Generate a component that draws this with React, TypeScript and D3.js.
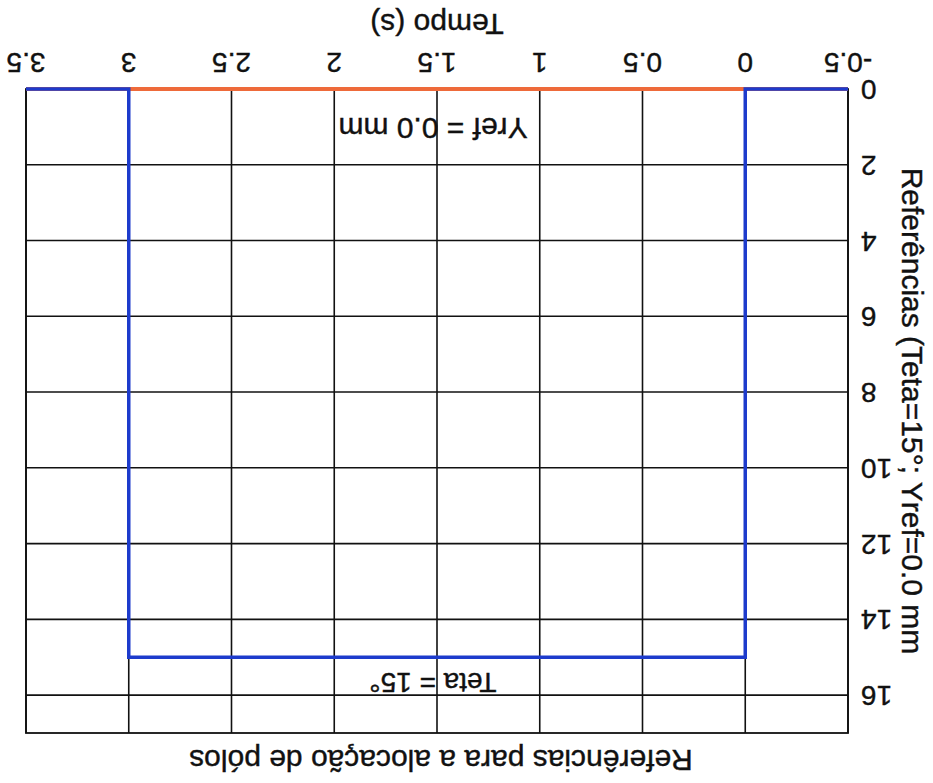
import React from "react";
import * as d3 from "d3";

const W = 933;
const H = 783;

const xTicks = [-0.5, 0, 0.5, 1, 1.5, 2, 2.5, 3, 3.5];
const xTickLabels = ["-0.5", "0", "0.5", "1", "1.5", "2", "2.5", "3", "3.5"];
const yTicks = [0, 2, 4, 6, 8, 10, 12, 14, 16];

const tempo = [-0.5, 0, 0, 3, 3, 3.5];
const teta = [0, 0, 15, 15, 0, 0];
const tempoRef = [-0.5, 3.5];
const yref = [0, 0];

const xDomain = [-0.5, 3.5];
const yDomain = [0, 17];

const title = "Referências para a alocação de pólos";
const xLabel = "Tempo (s)";
const yLabel = "Referências (Teta=15°; Yref=0.0 mm";
const tetaNote = "Teta = 15°";
const yrefNote = "Yref = 0.0 mm";

export default function App() {
  const m = { left: 85, right: 907, top: 50, bottom: 694 };
  const x = d3.scaleLinear().domain(xDomain).range([m.left, m.right]);
  const y = d3.scaleLinear().domain(yDomain).range([m.bottom, m.top]);
  const line = d3
    .line<[number, number]>()
    .x((d) => x(d[0]))
    .y((d) => y(d[1]));
  const tetaPts = tempo.map((t, i) => [t, teta[i]] as [number, number]);
  const refPts = tempoRef.map((t, i) => [t, yref[i]] as [number, number]);
  const font = "'Liberation Sans', Arial, Helvetica, sans-serif";
  const blue = "#1d3bcc";
  const orange = "#ee6a3a";
  const txt = { fill: "#111", stroke: "#111", strokeWidth: 0.4 };

  return (
    <svg
      width={W}
      height={H}
      style={{ position: "absolute", left: 0, top: 0, background: "#fff" }}
      fontFamily={font}
    >
      <rect width={W} height={H} fill="#fff" />
      <g transform={`rotate(180 ${W / 2} ${H / 2})`}>
        {xTicks.map((t) => (
          <line
            key={"gx" + t}
            x1={x(t)}
            x2={x(t)}
            y1={m.top}
            y2={m.bottom}
            stroke="#111"
            strokeWidth={1.6}
          />
        ))}
        {yTicks.map((t) => (
          <line
            key={"gy" + t}
            x1={m.left}
            x2={m.right}
            y1={y(t)}
            y2={y(t)}
            stroke="#111"
            strokeWidth={1.6}
          />
        ))}
        <rect
          x={m.left}
          y={m.top}
          width={m.right - m.left}
          height={m.bottom - m.top}
          fill="none"
          stroke="#111"
          strokeWidth={1.8}
        />
        <path d={line(refPts) || ""} fill="none" stroke={orange} strokeWidth={4} />
        <path d={line(tetaPts) || ""} fill="none" stroke={blue} strokeWidth={3.5} />
        {xTicks.map((t, i) => (
          <text
            key={"tx" + t}
            x={x(t)}
            y={m.bottom + 36}
            fontSize={28}
            textAnchor="middle"
            {...txt}
          >
            {xTickLabels[i]}
          </text>
        ))}
        {yTicks.map((t) => (
          <text
            key={"ty" + t}
            x={m.left - 13}
            y={y(t) + 9}
            fontSize={28}
            textAnchor="end"
            {...txt}
          >
            {t}
          </text>
        ))}
        <text x={496} y={769} fontSize={30} textAnchor="middle" {...txt}>
          {xLabel}
        </text>
        <text x={492} y={33} fontSize={30} textAnchor="middle" {...txt}>
          {title}
        </text>
        <text
          transform={`translate(31 ${(m.top + m.bottom) / 2}) rotate(-90)`}
          fontSize={30}
          textAnchor="middle"
          {...txt}
        >
          {yLabel}
        </text>
        <text x={x(1.5) + 4} y={y(15) - 16} fontSize={28} textAnchor="middle" {...txt}>
          {tetaNote}
        </text>
        <text x={x(1.5) + 4} y={y(0) - 29} fontSize={30} textAnchor="middle" {...txt}>
          {yrefNote}
        </text>
      </g>
    </svg>
  );
}
